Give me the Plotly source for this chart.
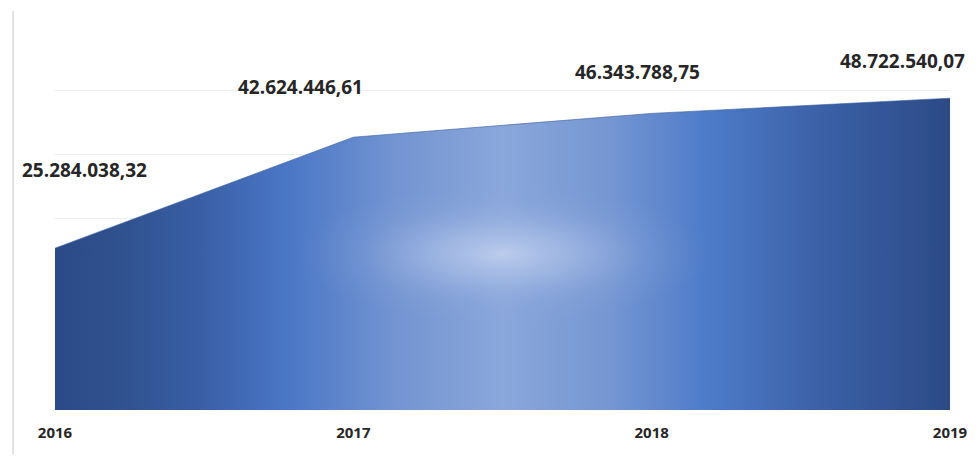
import plotly.graph_objects as go

years = [2016, 2017, 2018, 2019]
values = [25284038.32, 42624446.61, 46343788.75, 48722540.07]
labels = ["25.284.038,32", "42.624.446,61", "46.343.788,75", "48.722.540,07"]

# label offsets (px) relative to data points
label_xshift = [29, -53, -14, -48]
label_yshift = [78, 50, 41, 37]

base_scale = [[0, "#2b4a87"], [0.08, "#30528f"], [0.16, "#395ea5"], [0.26, "#4a77c6"],
              [0.38, "#7394d1"], [0.5, "#8aa7db"], [0.62, "#7596d2"], [0.73, "#4d7bc8"],
              [0.86, "#3b60a6"], [1, "#2c4a86"]]
glow_scale = [[0, "rgba(190,206,237,0.95)"], [0.15, "rgba(172,192,231,0.65)"],
              [0.32, "rgba(150,175,222,0.18)"], [0.46, "rgba(140,165,220,0)"],
              [1, "rgba(140,165,220,0)"]]

fig = go.Figure()
fig.add_trace(go.Scatter(
    x=years, y=values, mode="lines", fill="tozeroy",
    line=dict(width=0.6, color="#34589a"),
    fillgradient=dict(type="horizontal", colorscale=base_scale),
    hoverinfo="skip", showlegend=False,
))
fig.add_trace(go.Scatter(
    x=years, y=values, mode="lines", fill="tozeroy",
    line=dict(width=0),
    fillgradient=dict(type="radial", colorscale=glow_scale),
    hoverinfo="skip", showlegend=False,
))

for x, y, t, xs, ys in zip(years, values, labels, label_xshift, label_yshift):
    fig.add_annotation(x=x, y=y, text=t, showarrow=False, xshift=xs, yshift=ys,
                       font=dict(family="Open Sans", size=19, color="#262626", weight="bold"))

fig.add_shape(type="line", xref="paper", yref="paper", x0=-0.0468, x1=-0.0468, y0=-0.116, y1=1.04,
              line=dict(color="#e2e2e2", width=2))

fig.update_layout(
    width=980, height=457,
    margin=dict(l=55, r=27, t=26, b=47),
    paper_bgcolor="white", plot_bgcolor="white",
    xaxis=dict(range=[2016, 2019], tickvals=years, ticktext=[str(y) for y in years],
               showgrid=False, zeroline=False, showline=False, ticks="",
               tickfont=dict(family="Open Sans", size=15, color="#262626", weight="bold"),
               ticklabelstandoff=12),
    yaxis=dict(range=[0, 60e6], dtick=10e6, showgrid=True, gridcolor="#ececec", gridwidth=1,
               zeroline=False, showticklabels=False, showline=False, ticks=""),
)

fig.write_html("out.html")
